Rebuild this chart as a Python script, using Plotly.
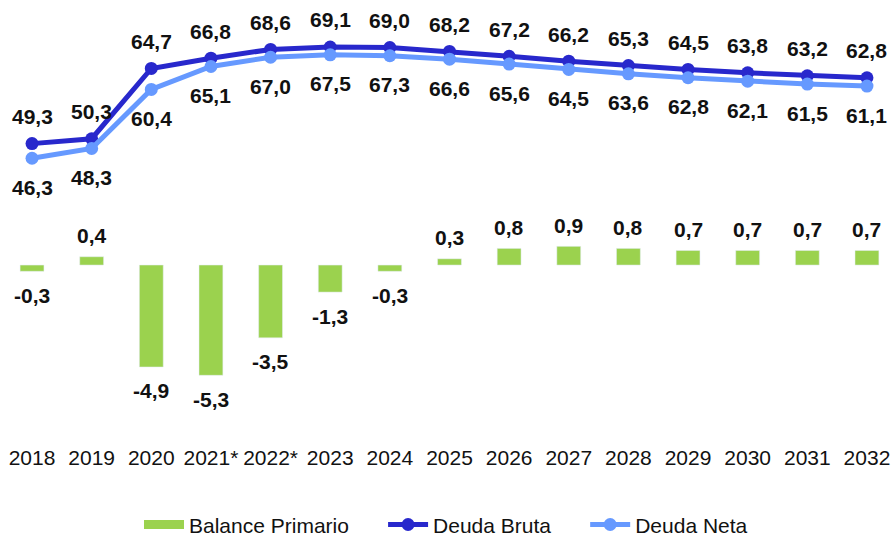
import plotly.graph_objects as go

years = ["2018", "2019", "2020", "2021*", "2022*", "2023", "2024", "2025",
         "2026", "2027", "2028", "2029", "2030", "2031", "2032"]
deuda_bruta = [49.3, 50.3, 64.7, 66.8, 68.6, 69.1, 69.0, 68.2, 67.2, 66.2, 65.3, 64.5, 63.8, 63.2, 62.8]
deuda_neta = [46.3, 48.3, 60.4, 65.1, 67.0, 67.5, 67.3, 66.6, 65.6, 64.5, 63.6, 62.8, 62.1, 61.5, 61.1]
balance = [-0.3, 0.4, -4.9, -5.3, -3.5, -1.3, -0.3, 0.3, 0.8, 0.9, 0.8, 0.7, 0.7, 0.7, 0.7]

GREEN = "#9BD24E"
DARK = "#2828CC"
LIGHT = "#6699FF"
FONT = "Liberation Sans, Arial, sans-serif"
PAD = "\u00a0" * 5


def fmt(v):
    return f"{v:.1f}".replace(".", ",")


fig = go.Figure()
fig.add_trace(go.Bar(x=years, y=balance, marker_color=GREEN, width=0.4,
                     showlegend=False, yaxis="y", hoverinfo="skip"))
# legend entry for bars (wide flat symbol)
fig.add_trace(go.Scatter(x=[None], y=[None], mode="lines", name="Balance Primario" + PAD,
                         line=dict(color=GREEN, width=9), yaxis="y2"))
fig.add_trace(go.Scatter(x=years, y=deuda_bruta, mode="lines+markers", name="Deuda Bruta" + PAD,
                         line=dict(color=DARK, width=5), marker=dict(size=13, color=DARK),
                         yaxis="y2"))
fig.add_trace(go.Scatter(x=years, y=deuda_neta, mode="lines+markers", name="Deuda Neta",
                         line=dict(color=LIGHT, width=5), marker=dict(size=13, color=LIGHT),
                         yaxis="y2"))

annotations = []
lab_font = dict(family=FONT, size=21, color="#111111")
for i, v in enumerate(deuda_bruta):
    annotations.append(dict(x=i, y=v, xref="x", yref="y2", text="<b>" + fmt(v) + "</b>",
                            showarrow=False, yshift=27, font=lab_font))
for i, v in enumerate(deuda_neta):
    annotations.append(dict(x=i, y=v, xref="x", yref="y2", text="<b>" + fmt(v) + "</b>",
                            showarrow=False, yshift=-29, font=lab_font))
for i, v in enumerate(balance):
    annotations.append(dict(x=i, y=v, xref="x", yref="y", text="<b>" + fmt(v) + "</b>",
                            showarrow=False, yshift=21 if v > 0 else -24, font=lab_font))

fig.update_layout(
    width=892, height=540,
    margin=dict(l=0, r=0, t=20, b=100, autoexpand=False),
    paper_bgcolor="white", plot_bgcolor="white",
    font=dict(family=FONT, size=21, color="#111111"),
    xaxis=dict(type="category", range=[-0.537, 14.42], showgrid=False, showline=False,
               zeroline=False, ticks="", ticklabelstandoff=3, automargin=False,
               tickfont=dict(size=21, color="#111111")),
    yaxis=dict(range=[-8.41, 11.78], visible=False, showgrid=False, zeroline=False),
    yaxis2=dict(range=[-11.43, 74.63], visible=False, overlaying="y", showgrid=False,
                zeroline=False),
    legend=dict(orientation="h", x=0.5, xanchor="center", y=-0.202, yanchor="middle",
                font=dict(size=21, color="#111111"), itemwidth=40,
                traceorder="normal"),
    annotations=annotations,
    bargap=0.6,
)

fig.write_html(
    "out.html",
    config={"displayModeBar": False},
    post_script="document.body.style.margin='0';document.body.style.padding='0';"
                "document.body.style.overflow='hidden';"
                "document.documentElement.style.overflow='hidden';",
)
